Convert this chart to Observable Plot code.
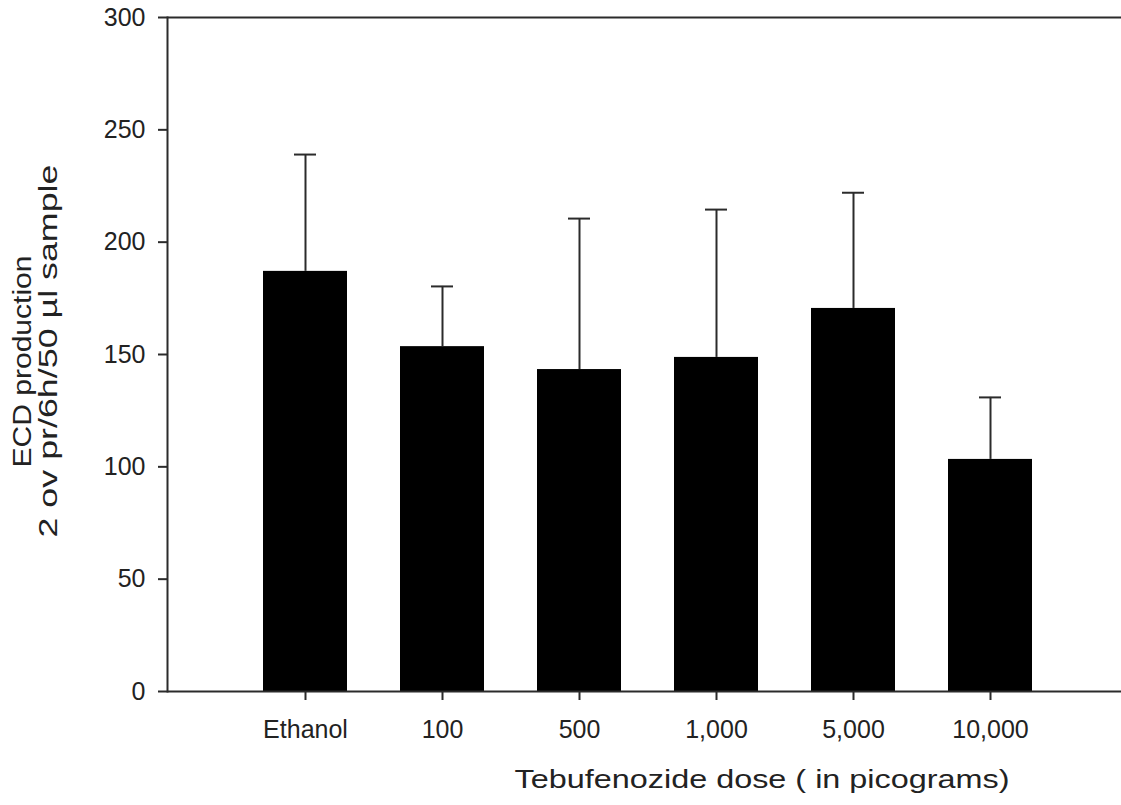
<!DOCTYPE html>
<html><head><meta charset="utf-8">
<script src="https://cdn.jsdelivr.net/npm/d3@7"></script>
<script src="https://cdn.jsdelivr.net/npm/@observablehq/plot@0.6"></script>
<style>body{margin:0;background:#fff} svg{display:block}</style>
</head><body><div id="chart"></div>
<script>
const categories = ["Ethanol", "100", "500", "1,000", "5,000", "10,000"];
const means = [187, 153.5, 143.3, 148.7, 170.5, 103.3];
const upperErrors = [52, 26.8, 67.2, 65.8, 51.5, 27.6];
const yTicks = [0, 50, 100, 150, 200, 250, 300];
const xTitle = "Tebufenozide dose ( in picograms)";
const yTitleLines = ["ECD production", "2 ov pr/6h/50 µl sample"];

const data = categories.map((c, i) => ({category: c, mean: means[i], upper: means[i] + upperErrors[i]}));
const axisColor = "#2b2b2b";
const font = "'Liberation Sans', Arial, sans-serif";

const chart = Plot.plot({
  width: 1121,
  height: 805,
  marginLeft: 167,
  marginRight: 0,
  marginTop: 17,
  marginBottom: 114,
  style: {fontFamily: font, fontSize: "25px", color: "#222", background: "#fff"},
  x: {type: "band", domain: categories, range: [170, 1124], paddingInner: 0.387, paddingOuter: 0.675, label: null},
  y: {domain: [0, 300], label: null},
  marks: [
    Plot.barY(data, {x: "category", y: "mean", fill: "#000"}),
    Plot.ruleX(data, {x: "category", y1: "mean", y2: "upper", stroke: axisColor, strokeWidth: 2}),
    Plot.tickY(data, {x: "category", y: "upper", stroke: axisColor, strokeWidth: 2, insetLeft: 31, insetRight: 31}),
    Plot.ruleY([0], {stroke: axisColor, strokeWidth: 2}),
    Plot.ruleY([300], {stroke: axisColor, strokeWidth: 2}),
    Plot.frame({anchor: "left", stroke: axisColor, strokeWidth: 2}),
    Plot.axisY(yTicks, {tickSize: 9, tickPadding: 13, stroke: axisColor, strokeWidth: 2, fontSize: 25, label: null}),
    Plot.axisX({tickSize: 9, tickPadding: 20, stroke: axisColor, strokeWidth: 2, fontSize: 25, label: null}),
    Plot.text([xTitle], {text: d => d, frameAnchor: "bottom", lineAnchor: "bottom", textAnchor: "start", dx: -130, dy: 96, fontSize: 25.5, fill: "#222"}),
    Plot.text([yTitleLines[0]], {text: d => d, frameAnchor: "left", lineAnchor: "bottom", textAnchor: "start", rotate: -90, dx: -137, dy: 113, fontSize: 25, fill: "#222"}),
    Plot.text([yTitleLines[1]], {text: d => d, frameAnchor: "left", lineAnchor: "bottom", textAnchor: "start", rotate: -90, dx: -111, dy: 183, fontSize: 25, fill: "#222"})
  ]
});
document.getElementById("chart").appendChild(chart);

const stretch = {[xTitle]: 495, [yTitleLines[0]]: 212, [yTitleLines[1]]: 373};
d3.select(chart).selectAll("text").each(function() {
  const t = this.textContent;
  if (stretch[t]) {
    d3.select(this).attr("textLength", stretch[t]).attr("lengthAdjust", "spacingAndGlyphs");
  }
});
</script>
</body></html>
